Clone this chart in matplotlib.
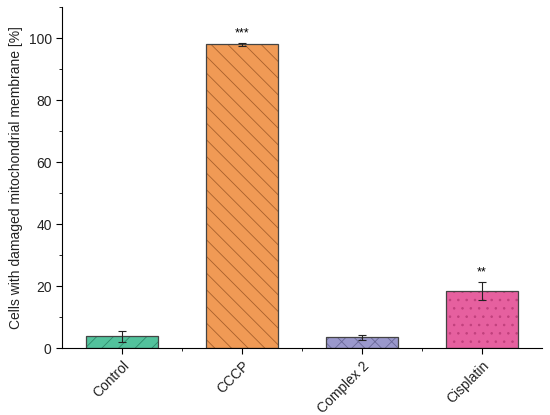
import matplotlib.pyplot as plt
from matplotlib.ticker import MultipleLocator, FixedLocator

plt.rcParams['font.family'] = ['Liberation Sans', 'DejaVu Sans']
plt.rcParams['hatch.linewidth'] = 0.6

categories = ['Control', 'CCCP', 'Complex 2', 'Cisplatin']
values = [3.8, 98.0, 3.5, 18.5]
errors = [1.7, 0.4, 0.9, 3.0]
stars = ['', '***', '', '**']
colors = ['#52c29c', '#f09a55', '#9a98cc', '#e6609f']
hatch_colors = ['#2f8a6a', '#a8602c', '#6a6898', '#c0407c']
hatches = ['//', '\\\\', 'xx', '..']

fig = plt.figure(figsize=(5.5, 4.15), dpi=100)
ax = fig.add_axes([0.113, 0.161, 0.872, 0.822])

x = list(range(1, len(categories) + 1))
for xi, v, e, c, hc, h, s in zip(x, values, errors, colors, hatch_colors, hatches, stars):
    # fill with hatch in a darker shade, then outline
    ax.bar(xi, v, width=0.6, color=c, edgecolor=hc, linewidth=0,
           hatch=h, zorder=2)
    ax.bar(xi, v, width=0.6, fill=False, edgecolor='#444444', linewidth=0.9,
           zorder=2)
    ax.errorbar(xi, v, yerr=e, fmt='none', ecolor='#222222', elinewidth=0.8,
                capsize=3, capthick=0.8, zorder=3)
    if s:
        ax.text(xi, v + e + 1.0, s, ha='center', va='bottom', fontsize=9)

ax.set_xlim(0.5, 4.5)
ax.set_ylim(0, 110)
ax.set_xticks(x)
ax.set_xticklabels(categories, rotation=45, ha='right', rotation_mode='anchor',
                   fontsize=10, color='#222222')
ax.xaxis.set_minor_locator(FixedLocator([1.5, 2.5, 3.5]))
ax.set_yticks([0, 20, 40, 60, 80, 100])
ax.yaxis.set_minor_locator(MultipleLocator(10))
ax.tick_params(axis='both', which='major', direction='out', length=4,
               labelsize=10, labelcolor='#222222')
ax.tick_params(axis='both', which='minor', direction='out', length=2)
ax.set_ylabel('Cells with damaged mitochondrial membrane [%]', fontsize=10,
              color='#222222')

ax.spines['top'].set_visible(False)
ax.spines['right'].set_visible(False)

fig.savefig('out.png', dpi=100)
